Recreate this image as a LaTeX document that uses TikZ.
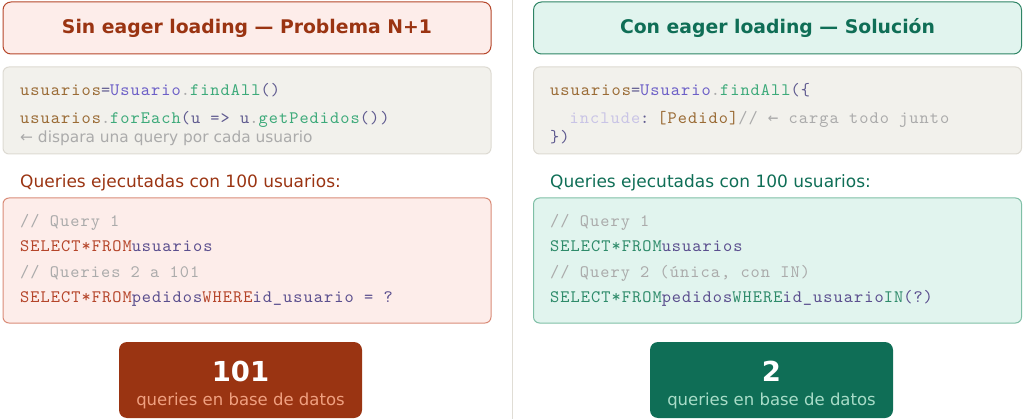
\documentclass[tikz,border=0pt]{standalone}
\usepackage{fontspec}
\setmainfont{DejaVu Sans}
\newfontfamily\codefont{lmmono10-regular.otf}[LetterSpace=6]
\newfontfamily\symfont{DejaVu Sans Mono}
\usetikzlibrary{positioning}

\definecolor{errText}{HTML}{9A3412}
\definecolor{errFill}{HTML}{FDEDEA}
\definecolor{errLine}{HTML}{B5462A}
\definecolor{errSoft}{HTML}{D98C78}
\definecolor{okText}{HTML}{0F6E56}
\definecolor{okFill}{HTML}{E1F4EE}
\definecolor{okLine}{HTML}{2E8465}
\definecolor{okSoft}{HTML}{7FBFA6}
\definecolor{codeFill}{HTML}{F2F1EC}
\definecolor{codeLine}{HTML}{DDDAD2}
\definecolor{cVar}{HTML}{9A6B35}
\definecolor{cCls}{HTML}{6C5FC7}
\definecolor{cFn}{HTML}{3DAA7A}
\definecolor{cPun}{HTML}{5F5A8F}
\definecolor{cCom}{HTML}{ABABAB}
\definecolor{cInc}{HTML}{C9C4E6}
\definecolor{sqlKwL}{HTML}{B5452A}
\definecolor{sqlKwR}{HTML}{2E8B6A}
\definecolor{sqlId}{HTML}{5A4E8E}
\definecolor{subL}{HTML}{F0A080}
\definecolor{subR}{HTML}{A8DCC8}
\definecolor{divLine}{HTML}{E0DDD5}

\newcommand\cv[1]{\textcolor{cVar}{#1}}
\newcommand\cc[1]{\textcolor{cCls}{#1}}
\newcommand\cf[1]{\textcolor{cFn}{#1}}
\newcommand\cp[1]{\textcolor{cPun}{#1}}
\newcommand\cm[1]{\textcolor{cCom}{#1}}

\begin{document}
\begin{tikzpicture}[x=1pt, y=-1pt,
  panel/.style={draw, rounded corners=8pt, line width=1pt, minimum width=488pt, inner sep=0pt},
  titlebox/.style={panel, minimum height=52pt, font=\fontsize{18.8}{22}\selectfont\bfseries},
  codebox/.style={panel, rounded corners=6pt, fill=codeFill, draw=codeLine, minimum height=87pt},
  sqlbox/.style={panel, rounded corners=6pt, minimum height=125pt},
  code/.style={anchor=base west, inner sep=0pt, font=\fontsize{17.5}{20}\codefont},
  note/.style={anchor=base west, inner sep=0pt, font=\fontsize{17}{20}\selectfont},
  resbox/.style={rounded corners=8pt, minimum width=243pt, minimum height=76pt, inner sep=0pt},
  bignum/.style={inner sep=0pt, text=white, font=\fontsize{27.5}{30}\selectfont\bfseries},
  subtxt/.style={inner sep=0pt, font=\fontsize{16.5}{19}\selectfont},
]
  \useasboundingbox (0,0) rectangle (1024,419);
  \draw[divLine, line width=1pt] (512,0) -- (512,419);

  % sin eager loading
  \node[titlebox, fill=errFill, draw=errLine, text=errText] (tl) at (247,28) {Sin eager loading — Problema N+1};
  \node[codebox] (cl) at (247,110.5) {};
  \node[code] (cl1) at (20,96) {\cv{usuarios}\cp{=}\cc{Usuario}\cm{.}\cf{findAll}\cp{()}};
  \node[code] (cl2) at (20,124) {\cv{usuarios}\cm{.}\cf{forEach}\cp{(u => u}\cm{.}\cf{getPedidos}\cp{())}};
  \node[note, font=\fontsize{15.4}{18}\selectfont, text=cCom] (cl3) at (20,142.5) {← dispara una query por cada usuario};
  \node[note, text=errText] (ql) at (20,188) {Queries ejecutadas con 100 usuarios:};
  \node[sqlbox, fill=errFill, draw=errSoft] (sl) at (247,260.5) {};
  \node[code] (sl1) at (20,227) {\cm{// Query 1}};
  \node[code] (sl2) at (20,252) {\textcolor{sqlKwL}{SELECT*FROM}\textcolor{sqlId}{usuarios}};
  \node[code] (sl3) at (20,277) {\cm{// Queries 2 a 101}};
  \node[code] (sl4) at (20,302) {\textcolor{sqlKwL}{SELECT*FROM}\textcolor{sqlId}{pedidos}\textcolor{sqlKwL}{WHERE}\textcolor{sqlId}{id\_usuario = ?}};
  \node[resbox, fill=errText] (rl) at (240.5,380) {};
  \node[bignum] (nl) at (240.5,371) {101};
  \node[subtxt, text=subL, below=11pt of nl] (ul) {queries en base de datos};

  % con eager loading
  \node[titlebox, fill=okFill, draw=okLine, text=okText] (tr) at (777.5,28) {Con eager loading — Solución};
  \node[codebox] (cr) at (777.5,110.5) {};
  \node[code] (cr1) at (550,96) {\cv{usuarios}\cp{=}\cc{Usuario}\cm{.}\cf{findAll}\cp{(\{}};
  \node[code] (cr2) at (550,124) {\phantom{xx}\textcolor{cInc}{include}\cp{:}\hspace{8pt}\cv{[Pedido]}\cm{// {\symfont ←} carga todo junto}};
  \node[code] (cr3) at (550,142.5) {\cp{\})}};
  \node[note, text=okText] (qr) at (550,188) {Queries ejecutadas con 100 usuarios:};
  \node[sqlbox, fill=okFill, draw=okSoft] (sr) at (777.5,260.5) {};
  \node[code] (sr1) at (550,227) {\cm{// Query 1}};
  \node[code] (sr2) at (550,252) {\textcolor{sqlKwR}{SELECT*FROM}\textcolor{sqlId}{usuarios}};
  \node[code] (sr3) at (550,277) {\cm{// Query 2 (única, con IN)}};
  \node[code] (sr4) at (550,302) {\textcolor{sqlKwR}{SELECT*FROM}\textcolor{sqlId}{pedidos}\textcolor{sqlKwR}{WHERE}\textcolor{sqlId}{id\_usuario}\textcolor{sqlKwR}{IN}\textcolor{sqlId}{(?)}};
  \node[resbox, fill=okText] (rr) at (771.5,380) {};
  \node[bignum] (nr) at (771.5,371) {2};
  \node[subtxt, text=subR, below=11pt of nr] (ur) {queries en base de datos};
\end{tikzpicture}
\end{document}
